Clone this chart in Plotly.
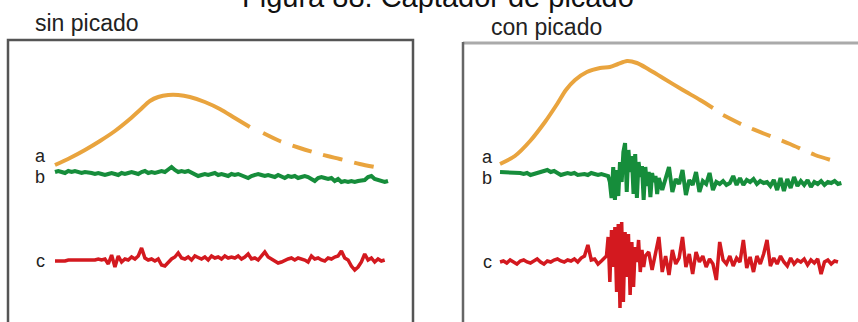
import plotly.graph_objects as go

# ---------------- data ----------------
title_text = "Figura 88. Captador de picado"
panel_titles = ["sin picado", "con picado"]
trace_labels = ["a", "b", "c"]

# panel 1 : sin picado  (time in arbitrary units 0..100, level in arbitrary units)
a1_t = [0, 4.5, 9, 13.5, 18, 22.5, 25.5, 28.5, 31, 34, 37, 40.5, 45, 49.5, 54, 58.5,
        62.5, 67.5, 73.5, 79.5, 85.5, 91.5, 97.5]
a1_v = [157, 164, 172, 181, 191, 203, 212, 221, 225, 227, 227, 225, 220, 213, 204, 195,
        189, 181, 174, 168, 163, 158, 154]
a1_solid_end = 58.5

b1_v = [150, 151, 150, 149, 151, 150, 151, 150, 149, 150,
        150, 149, 148, 149, 148, 147, 148, 149, 148, 147,
        149, 148, 149, 150, 149, 148, 150, 151, 149, 150,
        149, 150, 151, 150, 152, 155, 152, 150, 151, 150,
        151, 149, 148, 146, 147, 148, 147, 148, 149, 147,
        148, 147, 146, 148, 147, 148, 147, 146, 144, 146,
        147, 148, 147, 146, 147, 146, 145, 147, 145, 144,
        146, 145, 146, 144, 145, 146, 145, 143, 141, 144,
        145, 144, 143, 144, 141, 143, 140, 141, 140, 141,
        140, 141, 141, 142, 145, 146, 143, 142, 141, 140, 141]

c1_v = [61, 61, 61, 61, 62, 62, 62, 62, 62, 62,
        62, 62, 62, 63, 62, 63, 58, 67, 55, 66,
        60, 63, 62, 65, 63, 66, 74, 64, 62, 63,
        61, 63, 57, 56, 60, 63, 65, 69, 64, 63,
        65, 62, 66, 64, 63, 65, 62, 66, 64, 65,
        63, 66, 64, 65, 64, 66, 63, 65, 68, 63,
        64, 62, 66, 70, 65, 63, 60, 59, 60, 62,
        63, 64, 62, 64, 63, 62, 60, 66, 63, 64,
        62, 61, 64, 63, 65, 66, 71, 64, 62, 56,
        52, 55, 60, 68, 62, 64, 60, 63, 61, 62]

# panel 2 : con picado
a2_t = [0, 4.4, 8.9, 13.3, 16.9, 19.5, 22.2, 25.7, 29.6, 32.5, 34.9, 37.6, 40.5, 43.8,
        48.2, 54.1, 59.2, 63, 66, 71.9, 78.4, 85.8, 93.2, 100]
a2_v = [158, 166, 181, 200, 218, 232, 242, 250, 254, 255, 258, 261, 259, 253,
        244, 232, 222, 214, 207, 197, 188, 178, 167, 160]
a2_solid_end = 63

# b (before burst, step 1, t = 0..32)
b2_pre_v = [150, 150, 149, 150, 149, 150, 149, 148, 149, 147,
            148, 149, 150, 151, 152, 150, 151, 149, 147, 148,
            149, 148, 149, 147, 148, 148, 147, 149, 148, 147,
            148, 147, 146]
# b burst (step 0.5, t = 32.5..47)
b2_burst_v = [140, 124, 155, 122, 152, 126, 160, 140, 170, 179,
              130, 172, 150, 166, 128, 168, 124, 160, 145, 156,
              122, 155, 136, 150, 125, 149, 140, 146, 128, 144]
# b after burst (step 1, t = 48..101)
b2_post_v = [132, 145, 155, 130, 143, 138, 152, 127, 142, 137,
             150, 130, 141, 138, 149, 132, 140, 138, 141, 137,
             139, 146, 137, 144, 137, 142, 140, 143, 138, 141,
             139, 140, 136, 142, 132, 144, 131, 143, 134, 145,
             136, 141, 137, 142, 135, 140, 138, 141, 137, 140,
             139, 141, 138, 139]

# c (before burst, step 1, t = 0..31)
c2_pre_v = [60, 61, 59, 62, 60, 58, 61, 62, 60, 59,
            61, 63, 60, 58, 61, 60, 62, 63, 61, 60,
            62, 61, 63, 60, 64, 66, 77, 62, 63, 58,
            61, 64]
# c burst (step 0.5, t = 31.5..42.5)
c2_burst_v = [66, 85, 40, 92, 55, 95, 30, 98, 14, 100,
              20, 90, 45, 88, 27, 80, 35, 75, 60, 82,
              50, 72, 55]
# c after burst (step 1, t = 43..100)
c2_post_v = [66, 70, 52, 68, 85, 50, 66, 47, 72, 58,
             64, 85, 55, 68, 48, 70, 60, 66, 55, 63,
             58, 42, 80, 62, 58, 66, 56, 64, 60, 82,
             54, 65, 50, 66, 58, 68, 82, 56, 64, 58,
             66, 60, 56, 64, 58, 62, 60, 63, 57, 62,
             59, 63, 48, 60, 62, 58, 61, 60]

label_levels_1 = [166, 145, 61]
label_levels_2 = [165, 144, 60]

# ---------------- assemble time bases ----------------
b2_t = list(range(0, 33)) + [32.5 + 0.5 * i for i in range(len(b2_burst_v))] + \
    list(range(48, 48 + len(b2_post_v)))
b2_v = b2_pre_v + b2_burst_v + b2_post_v
c2_t = list(range(0, 32)) + [31.5 + 0.5 * i for i in range(len(c2_burst_v))] + \
    list(range(43, 43 + len(c2_post_v)))
c2_v = c2_pre_v + c2_burst_v + c2_post_v
b1_t = list(range(len(b1_v)))
c1_t = list(range(len(c1_v)))

# ---------------- style ----------------
W, H = 858, 322
ORANGE = "#E9A43E"
GREEN = "#168D3B"
RED = "#D3191F"
FONT = "Liberation Sans, Arial, sans-serif"

fig = go.Figure()


def add_panel(xa, a_t, a_v, solid_end, b_t, b_v, c_t, c_v, levels, label_x):
    sol_t = [t for t in a_t if t <= solid_end]
    sol_v = [v for t, v in zip(a_t, a_v) if t <= solid_end]
    das_t = [t for t in a_t if t > solid_end]
    das_v = [v for t, v in zip(a_t, a_v) if t > solid_end]
    fig.add_trace(go.Scatter(x=sol_t, y=sol_v, mode="lines", xaxis=xa, yaxis="y",
                             line=dict(color=ORANGE, width=4, shape="spline", smoothing=0.8)))
    fig.add_trace(go.Scatter(x=das_t, y=das_v, mode="lines", xaxis=xa, yaxis="y",
                             line=dict(color=ORANGE, width=4, dash="20px,12px",
                                       shape="spline", smoothing=0.8)))
    fig.add_trace(go.Scatter(x=b_t, y=b_v, mode="lines", xaxis=xa, yaxis="y",
                             line=dict(color=GREEN, width=4)))
    fig.add_trace(go.Scatter(x=c_t, y=c_v, mode="lines", xaxis=xa, yaxis="y",
                             line=dict(color=RED, width=3.5)))
    for lab, lev in zip(trace_labels, levels):
        fig.add_annotation(x=label_x, y=lev, xref=xa, yref="y", text=lab, showarrow=False,
                           xanchor="center", yanchor="middle",
                           font=dict(family=FONT, size=18, color="#222"))


add_panel("x", a1_t, a1_v, a1_solid_end, b1_t, b1_v, c1_t, c1_v, label_levels_1, -4.5)
add_panel("x2", a2_t, a2_v, a2_solid_end, b2_t, b2_v, c2_t, c2_v, label_levels_2, -3.8)

axis_common = dict(showgrid=False, zeroline=False, showticklabels=False, ticks="",
                   showline=False, fixedrange=True)
fig.update_layout(
    width=W, height=H,
    margin=dict(l=0, r=0, t=0, b=0),
    paper_bgcolor="white", plot_bgcolor="rgba(0,0,0,0)",
    showlegend=False,
    xaxis=dict(domain=[8 / W, 413 / W], range=[-14.11, 107.5], anchor="y", **axis_common),
    xaxis2=dict(domain=[463 / W, 1.0], range=[-10.95, 105.92], anchor="y", **axis_common),
    yaxis=dict(domain=[0, 1], range=[0, 322], **axis_common),
)

# panel frames
fig.add_shape(type="rect", xref="paper", yref="paper",
              x0=8 / W, x1=413 / W, y0=-0.05, y1=1 - 40 / H,
              line=dict(color="#555555", width=2.5), layer="below")
fig.add_shape(type="line", xref="paper", yref="paper",
              x0=463 / W, x1=1.05, y0=1 - 43 / H, y1=1 - 43 / H,
              line=dict(color="#AAAAAA", width=3), layer="below")
fig.add_shape(type="line", xref="paper", yref="paper",
              x0=463 / W, x1=463 / W, y0=-0.05, y1=1 - 42 / H,
              line=dict(color="#666666", width=2.5), layer="below")

# titles (the figure title is cropped at the top edge, as in the reference)
fig.add_annotation(x=438 / W, y=1 - 15 / H, xref="paper", yref="paper", text=title_text,
                   showarrow=False, xanchor="center", yanchor="bottom",
                   font=dict(family=FONT, size=29, color="#111"))
fig.add_annotation(x=86.5 / W, y=1 - 23 / H, xref="paper", yref="paper", text=panel_titles[0],
                   showarrow=False, xanchor="center", yanchor="middle",
                   font=dict(family=FONT, size=23, color="#222"))
fig.add_annotation(x=546 / W, y=1 - 27 / H, xref="paper", yref="paper", text=panel_titles[1],
                   showarrow=False, xanchor="center", yanchor="middle",
                   font=dict(family=FONT, size=23, color="#222"))

fig.write_html("out.html", config={"displayModeBar": False},
               post_script="document.body.style.margin='0';")
